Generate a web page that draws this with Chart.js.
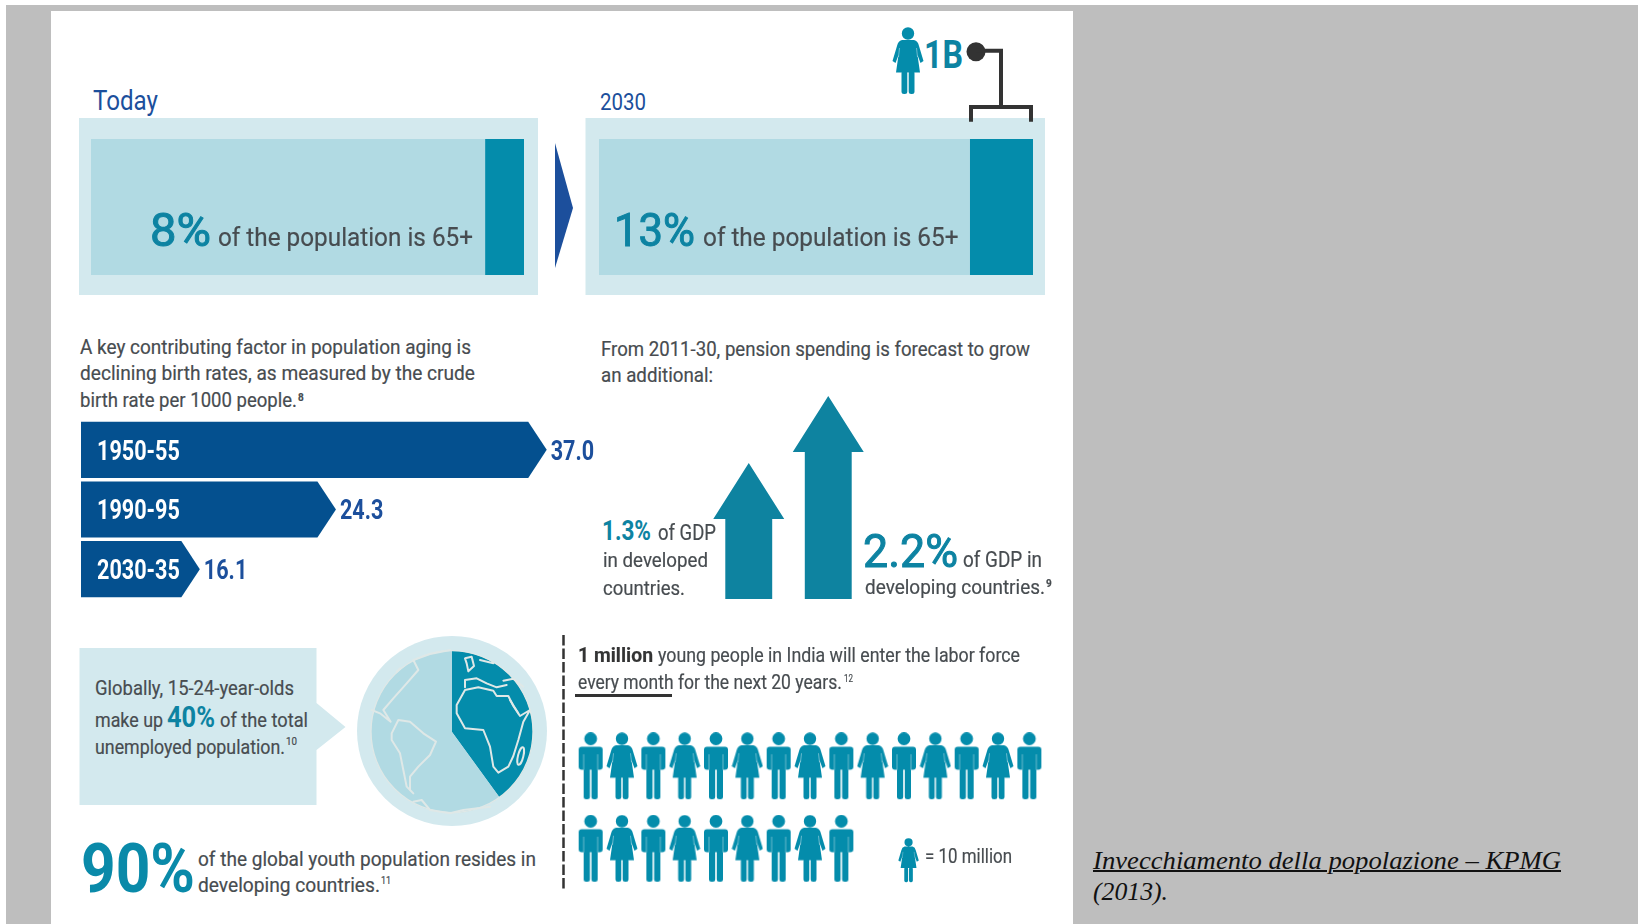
<!DOCTYPE html>
<html lang="en">
<head>
<meta charset="UTF-8">
<title>Invecchiamento della popolazione</title>
<script src="https://cdn.jsdelivr.net/npm/chart.js@4"></script>
<style>
    html, body { margin: 0; padding: 0; background: #fff; }
    body { position: relative; width: 1638px; height: 924px; overflow: hidden; }
    svg, canvas { position: absolute; }
    .t {
        position: absolute;
        white-space: nowrap;
        line-height: 1;
        transform-origin: left center;
        font-family: Roboto, sans-serif;
        color: #474c50;
        -webkit-text-stroke: .2px #474c50;
        z-index: 3;
    }
    .teal { color: #0d83a2; font-weight: bold; -webkit-text-stroke: 0; }
    .big { font-size: 46px; font-weight: normal; -webkit-text-stroke: 1px #0d83a2; }
    .navy { color: #1c4f9c; -webkit-text-stroke: 0; }
    .cap {
        font-family: "Liberation Serif", serif;
        font-style: italic;
        color: #111;
        -webkit-text-stroke: 0;
    }
</style>
</head>
<body>

<!-- page backdrop, panels and connectors -->
<svg width="1638" height="924" style="left:0;top:0;z-index:0">
    <rect x="6" y="5" width="1632" height="919" fill="#bebebe"/>
    <rect x="51" y="11" width="1022" height="913" fill="#fff"/>
    <rect x="79" y="118" width="459" height="177" fill="#d3e9ee"/>
    <rect x="585.5" y="118" width="459.5" height="177" fill="#d3e9ee"/>
    <path d="M555 143 L573 208 L555 268 Z" fill="#1c4f9c"/>
    <path d="M79.5 648 H316.5 V703 L345.5 727 L316.5 750 V805 H79.5 Z" fill="#d3e9ee"/>
    <circle cx="452" cy="731" r="95" fill="#d3e9ee"/>
    <line x1="563.5" y1="635" x2="563.5" y2="890" stroke="#333" stroke-width="2.5" stroke-dasharray="10.5 3"/>
    <line x1="575" y1="695.5" x2="672" y2="695.5" stroke="#333" stroke-width="3"/>
    <circle cx="976" cy="51.7" r="9.5" fill="#333"/>
    <path d="M976 50.7 H1001 V107 M971 121.7 V107 H1031 V121.7" fill="none" stroke="#333" stroke-width="4"/>
</svg>

<canvas id="shareToday" width="433" height="136" style="left:91px;top:139px;z-index:1"></canvas>
<canvas id="share2030" width="434" height="136" style="left:599px;top:139px;z-index:1"></canvas>
<canvas id="birthChart" width="520" height="179" style="left:81px;top:420px;z-index:1"></canvas>
<canvas id="pensionChart" width="159" height="209" style="left:709px;top:390px;z-index:1"></canvas>
<canvas id="youthChart" width="170" height="170" style="left:367px;top:647px;z-index:1"></canvas>
<canvas id="peopleChart" width="470" height="165" style="left:575px;top:725px;z-index:1"></canvas>

<!-- coastlines over the youth pie -->
<svg viewBox="0 0 630 600" width="210" height="200" style="left:350px;top:630px;z-index:2"
     fill="none" stroke="#dfe8e7" stroke-width="6" stroke-linejoin="round" stroke-linecap="round">
    <circle cx="306" cy="305" r="243" stroke-width="4"/>
    <path d="M345 180 L385 172 L430 182 L440 198 L475 198 L490 228 L510 258 L540 240 L520 275 L505 330 L490 378 L475 410 L445 428 L430 410 L420 350 L400 300 L345 295 L320 250 L320 225 Z"/>
    <ellipse cx="512" cy="378" rx="8" ry="27" transform="rotate(14 512 378)"/>
    <path d="M345 172 V150 L380 145 L410 160 L440 172 L470 165 M460 152 L490 146 L520 170 M350 100 L345 85 L365 80 L372 108 L355 124 Z M390 90 L430 100 M480 210 L505 250"/>
    <path d="M125 310 L145 270 L180 275 L220 310 L258 335 L240 375 L205 410 L180 440 L180 480 L190 490 L170 470 L160 420 L150 370 L125 330 Z"/>
    <path d="M300 60 L240 72 L190 90 L205 120 L170 160 L130 205 L100 240 L122 275 L90 250 L65 240 M140 125 L150 115"/>
    <path d="M190 515 L215 510 L240 540 L300 550 L340 540 L420 530"/>
</svg>

<!-- top is the text baseline, data-w the drawn width -->
<span class="t navy" style="left:93px;top:110.5px;font-size:28px" data-w="65">Today</span>
<span class="t navy" style="left:600px;top:109.5px;font-size:24px" data-w="46">2030</span>
<span class="t teal big" style="left:150px;top:246px" data-w="61">8%</span>
<span class="t" style="left:217.5px;top:246px;font-size:25px" data-w="255">of the population is 65+</span>
<span class="t teal big" style="left:614px;top:246px" data-w="81">13%</span>
<span class="t" style="left:702.5px;top:246px;font-size:25px" data-w="255.5">of the population is 65+</span>
<span class="t teal" style="left:924px;top:68px;font-size:39px" data-w="39">1B</span>

<span class="t" style="left:80px;top:354px;font-size:21px" data-w="391">A key contributing factor in population aging is</span>
<span class="t" style="left:80px;top:380.5px;font-size:21px" data-w="395">declining birth rates, as measured by the crude</span>
<span class="t" style="left:80px;top:407px;font-size:21px" data-w="217">birth rate per 1000 people.</span>
<span class="t" style="left:298px;top:401px;font-size:10px;font-weight:bold">8</span>

<span class="t" style="left:600.5px;top:356px;font-size:21px" data-w="429">From 2011-30, pension spending is forecast to grow</span>
<span class="t" style="left:600.5px;top:382px;font-size:21px" data-w="112">an additional:</span>
<span class="t teal" style="left:602px;top:540px;font-size:27px" data-w="49">1.3%</span>
<span class="t" style="left:658px;top:540px;font-size:22px" data-w="58">of GDP</span>
<span class="t" style="left:602.5px;top:567px;font-size:21px" data-w="105">in developed</span>
<span class="t" style="left:602.5px;top:595px;font-size:21px" data-w="82">countries.</span>
<span class="t teal big" style="left:863px;top:567px" data-w="95">2.2%</span>
<span class="t" style="left:963px;top:567px;font-size:22px" data-w="79">of GDP in</span>
<span class="t" style="left:865px;top:594px;font-size:21px" data-w="180">developing countries.</span>
<span class="t" style="left:1046px;top:587px;font-size:10px;font-weight:bold">9</span>

<span class="t" style="left:95px;top:695px;font-size:21px" data-w="199">Globally, 15-24-year-olds</span>
<span class="t" style="left:95px;top:727px;font-size:21px" data-w="68">make up</span>
<span class="t teal" style="left:167px;top:727px;font-size:29px" data-w="48">40%</span>
<span class="t" style="left:220px;top:727px;font-size:21px" data-w="88">of the total</span>
<span class="t" style="left:95px;top:754px;font-size:21px" data-w="190">unemployed population.</span>
<span class="t" style="left:286px;top:745px;font-size:10px" data-w="11">10</span>

<span class="t teal" style="left:81px;top:892px;font-size:69px;color:#0a8aa9" data-w="114">90%</span>
<span class="t" style="left:198px;top:866px;font-size:21px" data-w="338">of the global youth population resides in</span>
<span class="t" style="left:198px;top:892px;font-size:21px" data-w="182">developing countries.</span>
<span class="t" style="left:381px;top:884px;font-size:10px" data-w="10">11</span>

<span class="t" style="left:577.5px;top:662.5px;font-size:21px;font-weight:bold;color:#333" data-w="75">1 million</span>
<span class="t" style="left:658px;top:662.5px;font-size:21px" data-w="362">young people in India will enter the labor force</span>
<span class="t" style="left:577.5px;top:689px;font-size:21px" data-w="95.5">every month</span>
<span class="t" style="left:678px;top:689px;font-size:21px" data-w="164">for the next 20 years.</span>
<span class="t" style="left:844px;top:682px;font-size:10px" data-w="9">12</span>
<span class="t" style="left:925px;top:863px;font-size:21px" data-w="87">= 10 million</span>

<span class="t cap" style="left:1092.5px;top:869px;font-size:25px;text-decoration:underline;text-decoration-thickness:1.5px" data-w="468">Invecchiamento della popolazione – KPMG</span>
<span class="t cap" style="left:1092.5px;top:900px;font-size:25px" data-w="75">(2013).</span>

<script>
// Share of the population aged 65+, and everyone else
const shareYears = ['Today', '2030'];
const sharePct = [8, 13];
const restPct = [92, 87];

// Crude birth rate per 1000 people
const birthPeriods = ['1950-55', '1990-95', '2030-35'];
const birthRates = [37.0, 24.3, 16.1];

// Extra pension spending 2011-30, % of GDP
const pensionGroups = ['Developed', 'Developing'];
const pensionGrowth = [1.3, 2.2];

// Global unemployment by age group, %
const youthGroups = ['15-24-year-olds', 'Everyone else'];
const youthShare = [40, 60];

// Young people entering the labor force, one figure per 10 million
const peoplePerRow = [15, 9];

const DARK_TEAL = '#048cab';
const PALE_TEAL = '#b1dae3';

// Settle every text run on its baseline and squeeze it to its drawn width
const measure = document.createElement('canvas').getContext('2d');
document.querySelectorAll('.t').forEach(el => {
    const style = getComputedStyle(el);
    const size = parseFloat(style.fontSize);
    measure.font = `${style.fontStyle} ${style.fontWeight} ${size}px ${style.fontFamily}`;
    const m = measure.measureText('x');
    const baseline = parseFloat(el.style.top);
    el.style.top = (baseline - size / 2 - (m.fontBoundingBoxAscent - m.fontBoundingBoxDescent) / 2) + 'px';
    if (el.dataset.w) {
        el.style.transform = `scaleX(${el.dataset.w / el.getBoundingClientRect().width})`;
    }
});

const quiet = {
    responsive: false,
    animation: false,
    layout: { padding: 0, autoPadding: false },
    plugins: { legend: { display: false }, tooltip: { enabled: false } },
};

function shareChart(id, index) {
    new Chart(document.getElementById(id), {
        type: 'bar',
        data: {
            labels: [shareYears[index]],
            datasets: [
                { data: [sharePct[index]], backgroundColor: DARK_TEAL },
                { data: [restPct[index]], backgroundColor: PALE_TEAL },
            ],
        },
        options: {
            ...quiet,
            indexAxis: 'y',
            categoryPercentage: 1,
            barPercentage: 1,
            scales: {
                x: { display: false, stacked: true, reverse: true, min: 0, max: 90 },
                y: { display: false, stacked: true },
            },
        },
    });
}
shareChart('shareToday', 0);
shareChart('share2030', 1);

// Condensed bold label for the birth-rate bars
function narrowText(ctx, text, x, y, color) {
    ctx.save();
    ctx.translate(x, y);
    ctx.scale(0.8, 1);
    ctx.font = 'bold 27px Roboto, sans-serif';
    ctx.textBaseline = 'middle';
    ctx.fillStyle = color;
    ctx.fillText(text, 0, 0);
    ctx.restore();
}

// Bars with an arrow tip; the tip sits on the value
const arrowBars = {
    id: 'arrowBars',
    afterDatasetsDraw(chart) {
        const { ctx, chartArea } = chart;
        chart.getDatasetMeta(0).data.forEach((bar, i) => {
            const top = bar.y - bar.height / 2;
            const bottom = bar.y + bar.height / 2;
            ctx.fillStyle = '#04508f';
            ctx.beginPath();
            ctx.moveTo(chartArea.left, top);
            ctx.lineTo(bar.x - 18.5, top);
            ctx.lineTo(bar.x, bar.y);
            ctx.lineTo(bar.x - 18.5, bottom);
            ctx.lineTo(chartArea.left, bottom);
            ctx.closePath();
            ctx.fill();

            narrowText(ctx, birthPeriods[i], chartArea.left + 16, bar.y + 3, '#fff');
            narrowText(ctx, birthRates[i].toFixed(1), bar.x + 4, bar.y + 3, '#1c4f9c');
        });
    },
};

new Chart(document.getElementById('birthChart'), {
    type: 'bar',
    data: {
        labels: birthPeriods,
        datasets: [{ data: birthRates, backgroundColor: 'transparent', base: 8.94 }],
    },
    options: {
        ...quiet,
        indexAxis: 'y',
        categoryPercentage: 1,
        barPercentage: 0.94,
        scales: {
            x: { display: false, min: 8.94, max: 40.27 },
            y: { display: false },
        },
    },
    plugins: [arrowBars],
});

// Upward block arrows, the point sits on the value
const upArrows = {
    id: 'upArrows',
    afterDatasetsDraw(chart) {
        const { ctx, chartArea } = chart;
        ctx.save();
        ctx.fillStyle = '#0e83a0';
        chart.getDatasetMeta(0).data.forEach(bar => {
            const half = bar.width / 2;
            const shoulder = bar.y + 56;
            ctx.beginPath();
            ctx.moveTo(bar.x, bar.y);
            ctx.lineTo(bar.x + 35.5, shoulder);
            ctx.lineTo(bar.x + half, shoulder);
            ctx.lineTo(bar.x + half, chartArea.bottom);
            ctx.lineTo(bar.x - half, chartArea.bottom);
            ctx.lineTo(bar.x - half, shoulder);
            ctx.lineTo(bar.x - 35.5, shoulder);
            ctx.closePath();
            ctx.fill();
        });
        ctx.restore();
    },
};

new Chart(document.getElementById('pensionChart'), {
    type: 'bar',
    data: {
        labels: pensionGroups,
        datasets: [{ data: pensionGrowth, backgroundColor: 'transparent', base: -0.53 }],
    },
    options: {
        ...quiet,
        categoryPercentage: 1,
        barPercentage: 0.59,
        scales: {
            x: { display: false },
            y: { display: false, min: -0.53, max: 2.28 },
        },
    },
    plugins: [upArrows],
});

new Chart(document.getElementById('youthChart'), {
    type: 'pie',
    data: {
        labels: youthGroups,
        datasets: [{
            data: youthShare,
            backgroundColor: [DARK_TEAL, PALE_TEAL],
            borderWidth: 0,
            radius: 81,
        }],
    },
    options: quiet,
});

// Figures for the pictogram rows, drawn on a 32x68 grid
function person(kind, scale) {
    const c = document.createElement('canvas');
    c.width = Math.ceil(32 * scale);
    c.height = Math.ceil(68 * scale);
    const g = c.getContext('2d');
    g.scale(scale, scale);
    g.translate(16, 0);
    g.fillStyle = DARK_TEAL;
    g.strokeStyle = 'rgba(255,255,255,0.45)';
    g.lineWidth = 0.9;
    g.beginPath();
    if (kind === 'man') {
        g.arc(0, 6.5, 6.4, 0, Math.PI * 2);
        g.roundRect(-12, 14.5, 24, 23, 3);
        g.roundRect(-7, 36, 6.2, 31, 2.5);
        g.roundRect(0.8, 36, 6.2, 31, 2.5);
        g.fill();
        g.beginPath();
        g.moveTo(-7, 22); g.lineTo(-7, 37.5);
        g.moveTo(7, 22); g.lineTo(7, 37.5);
        g.stroke();
    } else {
        g.arc(0, 6.5, 6.2, 0, Math.PI * 2);
        g.moveTo(-6, 13);
        g.lineTo(6, 13);
        g.quadraticCurveTo(10, 14, 11, 19);
        g.lineTo(15.5, 34);
        g.lineTo(12.5, 36);
        g.lineTo(9.5, 28);
        g.lineTo(12, 45.5);
        g.lineTo(-12, 45.5);
        g.lineTo(-9.5, 28);
        g.lineTo(-12.5, 36);
        g.lineTo(-15.5, 34);
        g.lineTo(-11, 19);
        g.quadraticCurveTo(-10, 14, -6, 13);
        g.closePath();
        g.roundRect(-6.5, 44, 5.8, 23, 2.5);
        g.roundRect(0.7, 44, 5.8, 23, 2.5);
        g.fill();
        g.beginPath();
        g.moveTo(-8.5, 21); g.lineTo(-9.5, 30);
        g.moveTo(8.5, 21); g.lineTo(9.5, 30);
        g.stroke();
    }
    return c;
}

const man = person('man', 1);
const woman = person('woman', 1);

const peoplePoints = [];
peoplePerRow.forEach((count, row) => {
    for (let col = 0; col < count; col++) peoplePoints.push({ x: col, y: row });
});

new Chart(document.getElementById('peopleChart'), {
    type: 'scatter',
    data: {
        datasets: [{
            data: peoplePoints,
            pointRadius: 16,
            pointStyle: ctx => (ctx.dataIndex - (ctx.dataIndex >= peoplePerRow[0] ? peoplePerRow[0] : 0)) % 2 ? woman : man,
        }],
    },
    options: {
        ...quiet,
        clip: false,
        scales: {
            x: { display: false, min: -0.5, max: 14.5 },
            y: { display: false, reverse: true, min: -0.5, max: 1.5 },
        },
    },
});

// Stand-alone figures beside "1B" and in the key
function placeFigure(scale, left, top) {
    const fig = person('woman', scale);
    fig.style.left = left + 'px';
    fig.style.top = top + 'px';
    fig.style.zIndex = 1;
    document.body.appendChild(fig);
}
placeFigure(1, 892, 27);
placeFigure(0.66, 898, 838);
</script>
</body>
</html>
